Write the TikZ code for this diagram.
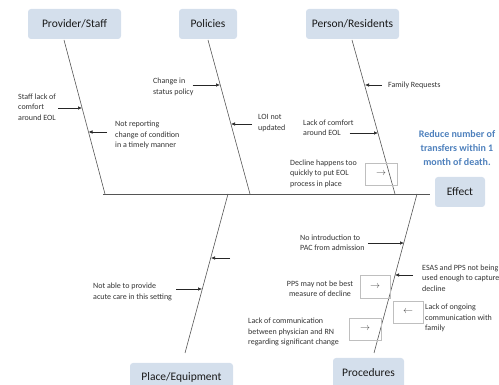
\documentclass[tikz,border=0pt]{standalone}
\usepackage{fontspec}
\setmainfont{Carlito}
\usetikzlibrary{arrows.meta}
\definecolor{catfill}{RGB}{212,223,236}
\definecolor{boneline}{RGB}{85,85,85}
\definecolor{goalblue}{RGB}{79,129,189}
\begin{document}
\begin{tikzpicture}[x=1pt,y=-1pt,
  category/.style={fill=catfill,rounded corners=3pt,text=black!90,
    font=\fontsize{11.5}{13}\selectfont,inner sep=0pt},
  bone/.style={draw=boneline,line width=0.6pt},
  cause/.style={draw=black!85,line width=0.6pt,-{Latex[length=4pt,width=3.6pt]}},
  lbl/.style={align=left,anchor=west,inner sep=2pt,text=black!80,
    font=\fontsize{8}{10.5}\selectfont},
  tinybox/.style={draw=black!25,line width=0.5pt,inner sep=0pt,text=black!70,
    minimum width=31pt,minimum height=22pt}]
\useasboundingbox (0,0) rectangle (499,385);

% category boxes
\node[category,minimum width=93pt,minimum height=30pt] (provider) at (74.5,24) {Provider/Staff};
\node[category,minimum width=58pt,minimum height=30pt] (policies) at (208,24) {Policies};
\node[category,minimum width=93pt,minimum height=30pt] (person) at (352.5,24) {Person/Residents};
\node[category,minimum width=103pt,minimum height=28pt] (place) at (181.5,377) {Place/Equipment};
\node[category,minimum width=71pt,minimum height=30pt] (procedures) at (368.5,373) {Procedures};
\node[category,minimum width=50pt,minimum height=30pt] (effect) at (460,192) {Effect};

\node[align=center,text=goalblue,inner sep=0pt,
  font=\fontsize{10}{14}\selectfont\bfseries] (goal) at (457,148)
  {Reduce number of\\transfers within 1\\month of death.};

% spine and bones
\coordinate (spineL) at (103,194);
\coordinate (spineR) at (430,194);
\draw[bone] (spineL) -- (spineR);

\coordinate (provTop) at (64,40);   \coordinate (provBot) at (105,194);
\coordinate (poliTop) at (208,40);  \coordinate (poliBot) at (250,194);
\coordinate (persTop) at (352,40);  \coordinate (persBot) at (395,194);
\coordinate (placeTop) at (228,194); \coordinate (placeBot) at (185,353);
\coordinate (procTop) at (417,194);  \coordinate (procBot) at (374,353);
\draw[bone] (provTop) -- (provBot);
\draw[bone] (poliTop) -- (poliBot);
\draw[bone] (persTop) -- (persBot);
\draw[bone] (placeTop) -- (placeBot);
\draw[bone] (procTop) -- (procBot);

% Provider/Staff
\node[lbl] (staffcomf) at (16,107) {Staff lack of\\comfort\\around EOL};
\coordinate (hStaff) at (82,108);
\draw[cause] (staffcomf.east |- hStaff) -- (hStaff);
\node[lbl] (notreport) at (113,135) {Not reporting\\change of condition\\in a timely manner};
\coordinate (hReport) at (88.5,132);
\draw[cause] ([xshift=-6pt]notreport.west |- hReport) -- (hReport);

% Policies
\node[lbl] (status) at (151,87) {Change in\\status policy};
\coordinate (hStatus) at (220,85);
\draw[cause] ([xshift=-3pt]status.east |- hStatus) -- (hStatus);
\node[lbl] (loi) at (256,123) {LOI not\\updated};
\coordinate (hLoi) at (231,124);
\draw[cause] ([xshift=-4pt]loi.west |- hLoi) -- (hLoi);

% Person/Residents
\node[lbl] (family) at (386,85) {Family Requests};
\coordinate (hFamily) at (365,85);
\draw[cause] ([xshift=-4pt]family.west |- hFamily) -- (hFamily);
\node[lbl] (lackcomf) at (301,128) {Lack of comfort\\around EOL};
\coordinate (hLackcomf) at (378,133);
\draw[cause] ([xshift=-6pt]lackcomf.east |- hLackcomf) -- (hLackcomf);
\node[lbl] (decline) at (288,173.5) {Decline happens too\\quickly to put EOL\\process in place};
\node[tinybox,minimum width=32pt] (declinebox) at (381,174) {$\rightarrow$};

% Place/Equipment
\coordinate (tPlace) at (230,258);
\coordinate (hPlace) at (211,258);
\draw[cause] (tPlace) -- (hPlace);
\node[lbl] (acute) at (91,292) {Not able to provide\\acute care in this setting};
\coordinate (hAcute) at (202,289);
\draw[cause] ([xshift=2pt]acute.east |- hAcute) -- (hAcute);

% Procedures
\node[lbl] (nointro) at (298,243) {No introduction to\\PAC from admission};
\coordinate (hIntro) at (404,243);
\draw[cause] ([xshift=1pt]nointro.east |- hIntro) -- (hIntro);
\node[lbl] (esas) at (420,278) {ESAS and PPS not being\\used enough to capture\\decline};
\coordinate (hEsas) at (395,275);
\draw[cause] ([xshift=-7pt]esas.west |- hEsas) -- (hEsas);
\node[lbl,align=center,anchor=center] (pps) at (320,289) {PPS may not be best\\measure of decline};
\node[tinybox,minimum width=30pt,minimum height=23pt] (ppsbox) at (375,286.5) {$\rightarrow$};
\node[lbl] (ongoing) at (423,318) {Lack of ongoing\\communication with\\family};
\node[tinybox,minimum width=30pt] (ongoingbox) at (408,312) {$\leftarrow$};
\node[lbl] (rncomm) at (246,332) {Lack of communication\\between physician and RN\\regarding significant change};
\node[tinybox,minimum width=32pt] (rncommbox) at (365,329) {$\rightarrow$};
\end{tikzpicture}
\end{document}
